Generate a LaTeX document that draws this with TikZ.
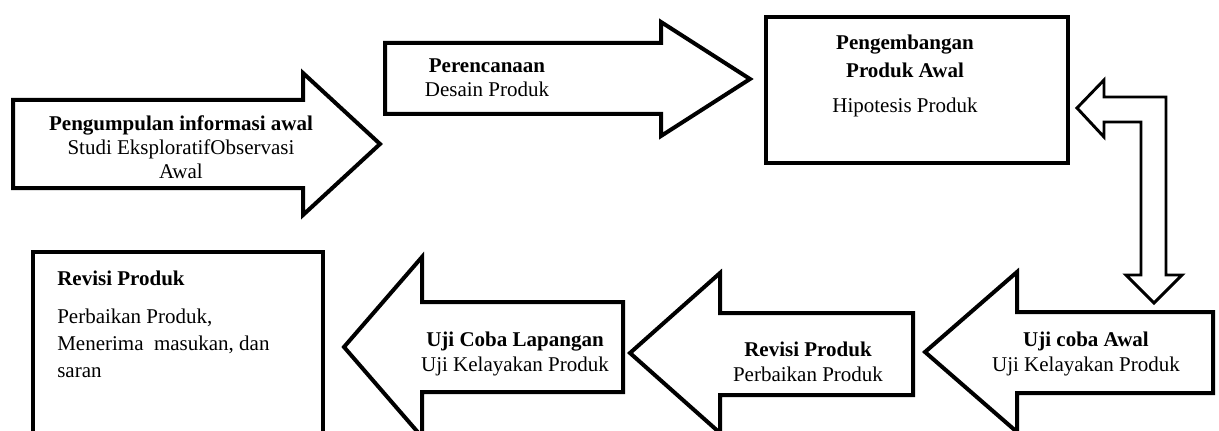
\documentclass[tikz,border=0pt]{standalone}
\usepackage{fontspec}
\setmainfont{Liberation Serif}
\usetikzlibrary{positioning,calc}

\tikzset{
    blockarrow/.style={line width=3pt, line join=miter},
    plainbox/.style={line width=3.6pt},
    hollowarrow/.style={line width=2.2pt, line join=miter},
    lbl/.style={align=center, inner sep=0pt, font=\fontsize{15.75}{18.5}\selectfont},
}

\begin{document}
\begin{tikzpicture}[x=0.75pt, y=-0.75pt]
    \useasboundingbox (0,0) rectangle (1219,431);
    \clip (0,0) rectangle (1219,431);

    % top row
    \draw[blockarrow] (13,100) -- (303,100) -- (303,73) -- (380,144) -- (303,215) -- (303,188) -- (13,188) -- cycle;
    \node[lbl, font=\fontsize{15.75}{18}\selectfont] (info) at (181,147) {\textbf{Pengumpulan informasi awal}\\Studi EksploratifObservasi\\Awal};

    \draw[blockarrow] (385,43) -- (661,43) -- (661,22) -- (750,79) -- (661,136) -- (661,114) -- (385,114) -- cycle;
    \node[lbl, font=\fontsize{15.75}{18}\selectfont] (plan) at (487,78) {\textbf{Perencanaan}\\Desain Produk};

    \draw[plainbox] (766,17) rectangle (1068,163);
    \node[lbl, font=\fontsize{15.75}{21}\selectfont] (dev) at (905,76) {\textbf{Pengembangan}\\\textbf{Produk Awal}\\[5.25pt]Hipotesis Produk};

    % bent hollow arrow
    \coordinate (devin) at (1077,108);
    \coordinate (trialin) at (1154,303);
    \draw[hollowarrow] (devin) -- ++(27,-28) -- ++(0,17) -- ++(62,0) -- ++(0,178) -- ++(16,0)
        -- (trialin) -- ++(-28,-28) -- ++(15,0) -- ++(0,-153) -- ++(-37,0) -- ++(0,15) -- cycle;

    % bottom row
    \draw[blockarrow] (1213,312) -- (1017,312) -- (1017,272) -- (925,352) -- (1017,432) -- (1017,393) -- (1213,393) -- cycle;
    \node[lbl] (trial) at (1086,354) {\textbf{Uji coba Awal}\\Uji Kelayakan Produk};

    \draw[blockarrow] (913,313) -- (720,313) -- (720,273) -- (630,353) -- (720,433) -- (720,395) -- (913,395) -- cycle;
    \node[lbl] (rev) at (808,362) {\textbf{Revisi Produk}\\Perbaikan Produk};

    \draw[blockarrow] (623,302) -- (422,302) -- (422,257) -- (344,347) -- (422,437) -- (422,392) -- (623,392) -- cycle;
    \node[lbl] (field) at (515,354) {\textbf{Uji Coba Lapangan}\\Uji Kelayakan Produk};

    \draw[plainbox] (33,252) rectangle (323,445);
    \node[lbl, align=left, anchor=north west, font=\fontsize{15.75}{20.25}\selectfont] (final) at (57,271)
        {\textbf{Revisi Produk}\\[8.25pt]Perbaikan Produk,\\Menerima\ \ masukan, dan\\saran};
\end{tikzpicture}
\end{document}
